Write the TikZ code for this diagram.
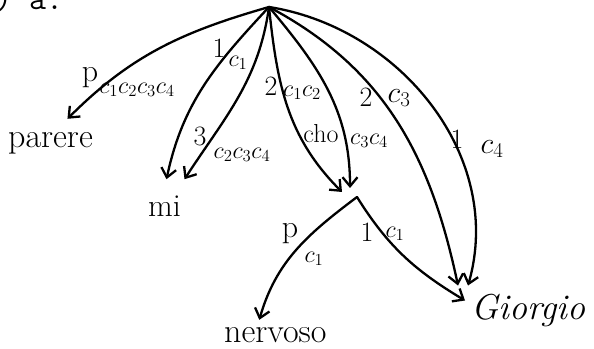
\documentclass[tikz,border=0pt]{standalone}
\usepackage{amsmath}
\usepackage{fix-cm}
\usepackage{fontspec}
\usetikzlibrary{arrows.meta}

\begin{document}
\begin{tikzpicture}[x=1pt, y=1pt, line width=2.3pt, line join=round, line cap=round,
    >={Straight Barb[length=9pt, width=15pt]},
    word/.style={inner sep=0pt, anchor=base west, font=\fontsize{34}{36}\selectfont},
    lab/.style={inner sep=0pt, font=\fontsize{24}{26}\selectfont},
    num/.style={inner sep=0pt, font=\fontsize{28}{30}\selectfont}]
        \clip (0,0) rectangle (594,348);
        \node(head) at (-6,338) [anchor=base west, inner sep=0pt, font=\ttfamily\fontsize{33}{35}\selectfont] {) a.};
        \coordinate(r) at (269,341);
        \coordinate(j) at (357,151);
        \node(parere) at (7,200) [word] {parere};
        \node(mi) at (147,131) [word, font=\fontsize{32}{34}\selectfont] {mi};
        \node(nervoso) at (223,6) [word] {nervoso};
        \node(giorgio) at (470,28) [word, font=\fontsize{36}{38}\selectfont\itshape] {Giorgio};
        \draw [->] (r) to[out=196, in=45] ([shift={(17,13)}]parere.north);
        \draw [->] (r) to[out=227, in=78] ([shift={(2,16)}]mi.north);
        \draw [->] (r) to[out=262, in=57] ([shift={(20,16)}]mi.north);
        \draw [->] (r) to[out=276, in=135] ([shift={(-15,5)}]j);
        \draw [->] (r) to[out=310, in=90] ([shift={(-7,9)}]j);
        \draw [->] (r) to[out=332, in=102] ([shift={(-12,8)}]giorgio.north west);
        \draw [->] (r) to[out=351, in=74] ([shift={(-2,8)}]giorgio.north west);
        \draw [->] (j) to[out=217, in=74] ([shift={(-16,6)}]nervoso.north);
        \draw [->] (j) to[out=302, in=149] ([shift={(-5,-7)}]giorgio.north west);
        \node(p1) at (90,270) [num, font=\fontsize{32}{34}\selectfont] {p};
        \node(c1) at (137,258) [lab] {$c_1c_2c_3c_4$};
        \node(p2) at (219,300) [num] {1};
        \node(c2) at (238,285) [lab] {$c_1$};
        \node(p3) at (200,212) [num] {3};
        \node(c3) at (242,193) [lab] {$c_2c_3c_4$};
        \node(p4) at (271,262) [num] {2};
        \node(c4) at (302,255) [lab] {$c_1c_2$};
        \node(p5) at (321,214) [lab, font=\fontsize{26}{28}\selectfont] {cho};
        \node(c5) at (369,207) [lab] {$c_3c_4$};
        \node(p6) at (366,251) [num] {2};
        \node(c6) at (399,250) [lab, font=\fontsize{30}{32}\selectfont] {$c_3$};
        \node(p7) at (457,209) [num] {1};
        \node(c7) at (492,199) [lab, font=\fontsize{30}{32}\selectfont] {$c_4$};
        \node(p8) at (290,114) [num, font=\fontsize{32}{34}\selectfont] {p};
        \node(c8) at (314,89) [lab] {$c_1$};
        \node(p9) at (367,116) [num] {1};
        \node(c9) at (395,114) [lab] {$c_1$};
    \end{tikzpicture}
\end{document}
